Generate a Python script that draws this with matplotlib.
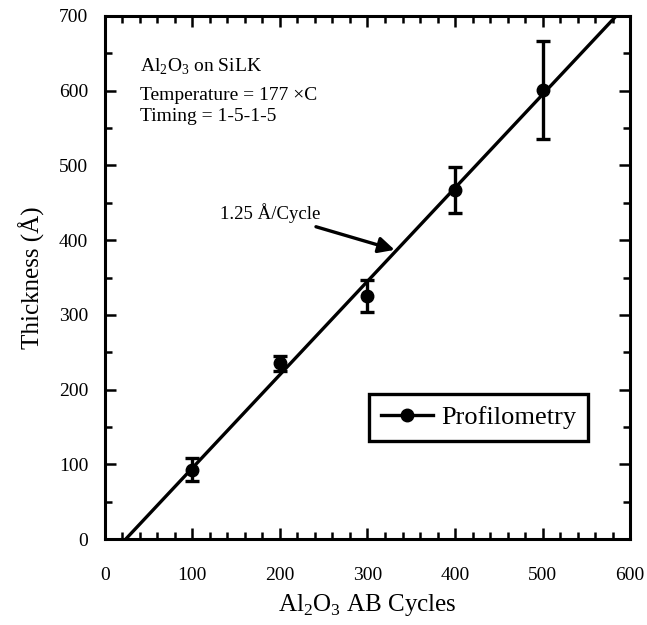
import matplotlib
matplotlib.use("Agg")
import matplotlib.pyplot as plt
from matplotlib.lines import Line2D
from matplotlib.ticker import MultipleLocator

plt.rcParams['font.family'] = ['Liberation Serif', 'DejaVu Serif']
plt.rcParams['mathtext.fontset'] = 'custom'
plt.rcParams['mathtext.rm'] = 'Liberation Serif'

# 数据
cycles = [100, 200, 300, 400, 500]
thickness = [93, 235, 325, 467, 601]
errors = [15, 10, 21, 31, 65]

# 拟合线 1.25 Å/Cycle
fit_x = [0, 600]
fit_slope = 1.25
fit_offset = -30
fit_y = [fit_slope * x + fit_offset for x in fit_x]

fig = plt.figure(figsize=(6.47, 6.25), dpi=100)
ax = fig.add_axes([0.162, 0.1376, 0.812, 0.8368])

ax.plot(fit_x, fit_y, color='black', lw=2.4)
ax.errorbar(cycles, thickness, yerr=errors, fmt='o', color='black', ms=9,
            elinewidth=2.4, capsize=5, capthick=2.4)

ax.set_xlim(0, 600)
ax.set_ylim(0, 700)
ax.xaxis.set_major_locator(MultipleLocator(100))
ax.xaxis.set_minor_locator(MultipleLocator(20))
ax.yaxis.set_major_locator(MultipleLocator(100))
ax.yaxis.set_minor_locator(MultipleLocator(50))
ax.tick_params(which='both', direction='in', top=True, right=True, width=1.8,
               labelsize=14)
ax.tick_params(axis='x', pad=20)
ax.tick_params(axis='y', pad=12)
ax.tick_params(which='major', length=8)
ax.tick_params(which='minor', length=5)
for sp in ax.spines.values():
    sp.set_linewidth(2.2)

ax.set_xlabel('Al$_2$O$_3$ AB Cycles', fontsize=18, labelpad=6)
ax.set_ylabel('Thickness (Å)', fontsize=18, labelpad=10)

# 左上角说明文字
ax.text(40, 632, 'Al$_2$O$_3$ on SiLK', fontsize=14, va='center')
ax.text(40, 594, 'Temperature = 177 ×C', fontsize=14, va='center')
ax.text(40, 565, 'Timing = 1-5-1-5', fontsize=14, va='center')

# 斜率箭头标注
ax.annotate('1.25 Å/Cycle', xy=(331, 387), xytext=(246, 436),
            fontsize=13.5, ha='right', va='center',
            arrowprops=dict(arrowstyle='-|>', color='black', lw=2.4,
                            mutation_scale=24, shrinkA=2, shrinkB=0))

handle = Line2D([], [], color='black', lw=2.4, marker='o', ms=9)
leg = ax.legend([handle], ['Profilometry'], loc='center',
                bbox_to_anchor=(0.7115, 0.232),
                fontsize=19, fancybox=False, framealpha=1,
                edgecolor='black', handlelength=2.0, borderpad=0.45,
                handletextpad=0.3, borderaxespad=0)
leg.get_frame().set_linewidth(2.4)

fig.savefig('out.png', dpi=100)
